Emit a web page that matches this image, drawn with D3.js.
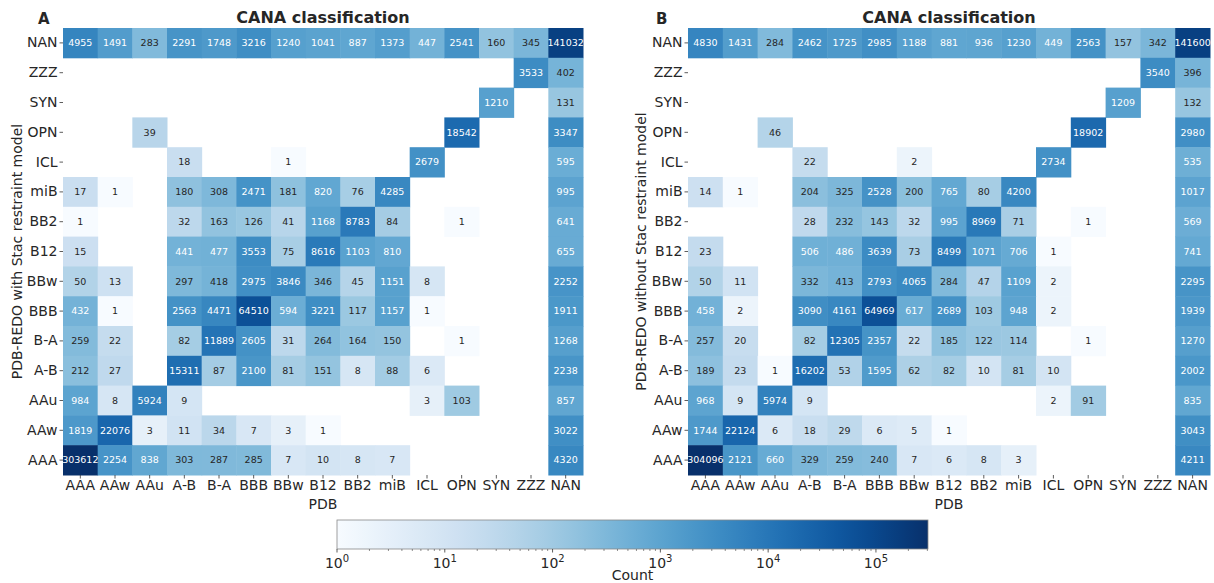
<!DOCTYPE html>
<html>
<head>
<meta charset="utf-8">
<script src="https://cdn.jsdelivr.net/npm/d3@7"></script>
<style>
  body { margin: 0; background: #fff; }
  svg { font-family: "DejaVu Sans", sans-serif; }
</style>
</head>
<body>
<svg id="chart" width="1214" height="583"></svg>
<script>
// row labels top -> bottom, column labels left -> right
const rowLabels = ['NAN', 'ZZZ', 'SYN', 'OPN', 'ICL', 'miB', 'BB2', 'B12', 'BBw', 'BBB', 'B-A', 'A-B', 'AAu', 'AAw', 'AAA'];
const colLabels = ['AAA', 'AAw', 'AAu', 'A-B', 'B-A', 'BBB', 'BBw', 'B12', 'BB2', 'miB', 'ICL', 'OPN', 'SYN', 'ZZZ', 'NAN'];
const _ = null;

// panel A: PDB-REDO with Stac restraint model
const countsA = [
  [4955, 1491, 283, 2291, 1748, 3216, 1240, 1041, 887, 1373, 447, 2541, 160, 345, 141032],
  [_, _, _, _, _, _, _, _, _, _, _, _, _, 3533, 402],
  [_, _, _, _, _, _, _, _, _, _, _, _, 1210, _, 131],
  [_, _, 39, _, _, _, _, _, _, _, _, 18542, _, _, 3347],
  [_, _, _, 18, _, _, 1, _, _, _, 2679, _, _, _, 595],
  [17, 1, _, 180, 308, 2471, 181, 820, 76, 4285, _, _, _, _, 995],
  [1, _, _, 32, 163, 126, 41, 1168, 8783, 84, _, 1, _, _, 641],
  [15, _, _, 441, 477, 3553, 75, 8616, 1103, 810, _, _, _, _, 655],
  [50, 13, _, 297, 418, 2975, 3846, 346, 45, 1151, 8, _, _, _, 2252],
  [432, 1, _, 2563, 4471, 64510, 594, 3221, 117, 1157, 1, _, _, _, 1911],
  [259, 22, _, 82, 11889, 2605, 31, 264, 164, 150, _, 1, _, _, 1268],
  [212, 27, _, 15311, 87, 2100, 81, 151, 8, 88, 6, _, _, _, 2238],
  [984, 8, 5924, 9, _, _, _, _, _, _, 3, 103, _, _, 857],
  [1819, 22076, 3, 11, 34, 7, 3, 1, _, _, _, _, _, _, 3022],
  [303612, 2254, 838, 303, 287, 285, 7, 10, 8, 7, _, _, _, _, 4320]
];

// panel B: PDB-REDO without Stac restraint model
const countsB = [
  [4830, 1431, 284, 2462, 1725, 2985, 1188, 881, 936, 1230, 449, 2563, 157, 342, 141600],
  [_, _, _, _, _, _, _, _, _, _, _, _, _, 3540, 396],
  [_, _, _, _, _, _, _, _, _, _, _, _, 1209, _, 132],
  [_, _, 46, _, _, _, _, _, _, _, _, 18902, _, _, 2980],
  [_, _, _, 22, _, _, 2, _, _, _, 2734, _, _, _, 535],
  [14, 1, _, 204, 325, 2528, 200, 765, 80, 4200, _, _, _, _, 1017],
  [_, _, _, 28, 232, 143, 32, 995, 8969, 71, _, 1, _, _, 569],
  [23, _, _, 506, 486, 3639, 73, 8499, 1071, 706, 1, _, _, _, 741],
  [50, 11, _, 332, 413, 2793, 4065, 284, 47, 1109, 2, _, _, _, 2295],
  [458, 2, _, 3090, 4161, 64969, 617, 2689, 103, 948, 2, _, _, _, 1939],
  [257, 20, _, 82, 12305, 2357, 22, 185, 122, 114, _, 1, _, _, 1270],
  [189, 23, 1, 16202, 53, 1595, 62, 82, 10, 81, 10, _, _, _, 2002],
  [968, 9, 5974, 9, _, _, _, _, _, _, 2, 91, _, _, 835],
  [1744, 22124, 6, 18, 29, 6, 5, 1, _, _, _, _, _, _, 3043],
  [304096, 2121, 660, 329, 259, 240, 7, 6, 8, 3, _, _, _, _, 4211]
];

const colorTicks = [1, 10, 100, 1000, 10000, 100000];
const countMax = d3.max([...countsA.flat(), ...countsB.flat()]);

const svg = d3.select('#chart');
const color = d3.scaleSequentialLog(d3.interpolateBlues).domain([1, countMax]);

// seaborn style: dark text on light cells, white on dark
function textColor(c) {
  const rgb = d3.rgb(c);
  const lin = v => { v /= 255; return v <= 0.03928 ? v / 12.92 : Math.pow((v + 0.055) / 1.055, 2.4); };
  const l = 0.2126 * lin(rgb.r) + 0.7152 * lin(rgb.g) + 0.0722 * lin(rgb.b);
  return l > 0.408 ? '#262626' : '#fff';
}

function drawPanel(counts, opts) {
  const g = svg.append('g');
  const x = d3.scaleBand().domain(colLabels).range([opts.left, opts.right]);
  const y = d3.scaleBand().domain(rowLabels).range([opts.top, opts.bottom]);

  const cells = [];
  counts.forEach((row, i) => row.forEach((v, j) => {
    if (v != null) cells.push({ r: rowLabels[i], c: colLabels[j], v });
  }));

  g.append('g').selectAll('rect')
    .data(cells)
    .join('rect')
      .attr('x', d => x(d.c))
      .attr('y', d => y(d.r))
      .attr('width', x.bandwidth() + 0.5)
      .attr('height', y.bandwidth() + 0.5)
      .attr('fill', d => color(d.v));

  g.append('g').selectAll('text')
    .data(cells)
    .join('text')
      .attr('x', d => x(d.c) + x.bandwidth() / 2)
      .attr('y', d => y(d.r) + y.bandwidth() / 2)
      .attr('dy', '0.35em')
      .attr('text-anchor', 'middle')
      .attr('font-size', 9.5)
      .attr('fill', d => textColor(color(d.v)))
      .text(d => d.v);

  const xAxis = g.append('g')
    .attr('transform', `translate(0,${opts.bottom})`)
    .call(d3.axisBottom(x).tickSize(3.5).tickPadding(2));
  xAxis.select('.domain').remove();
  xAxis.selectAll('line').attr('stroke', '#333').attr('stroke-width', 0.8);
  xAxis.selectAll('text').attr('font-size', 14).attr('fill', '#262626')
    .attr('font-family', '"DejaVu Sans", sans-serif');

  const yAxis = g.append('g')
    .attr('transform', `translate(${opts.left},0)`)
    .call(d3.axisLeft(y).tickSize(3.5).tickPadding(2));
  yAxis.select('.domain').remove();
  yAxis.selectAll('line').attr('stroke', '#333').attr('stroke-width', 0.8);
  yAxis.selectAll('text').attr('font-size', 14).attr('fill', '#262626')
    .attr('font-family', '"DejaVu Sans", sans-serif');

  const cx = (opts.left + opts.right) / 2;
  g.append('text')
    .attr('x', cx).attr('y', 23)
    .attr('text-anchor', 'middle')
    .attr('font-size', 16).attr('font-weight', 'bold').attr('fill', '#262626')
    .text('CANA classification');

  g.append('text')
    .attr('x', opts.letterX).attr('y', 24)
    .attr('font-size', 15).attr('font-weight', 'bold').attr('fill', '#262626')
    .text(opts.letter);

  g.append('text')
    .attr('x', cx).attr('y', opts.bottom + 34)
    .attr('text-anchor', 'middle')
    .attr('font-size', 14).attr('fill', '#262626')
    .text('PDB');

  g.append('text')
    .attr('transform', `translate(${opts.ylabelX},${(opts.top + opts.bottom) / 2}) rotate(-90)`)
    .attr('text-anchor', 'middle')
    .attr('font-size', 14).attr('fill', '#262626')
    .text(opts.ylabel);
}

drawPanel(countsA, {
  left: 63, right: 583, top: 28, bottom: 475,
  letter: 'A', letterX: 38, ylabelX: 22,
  ylabel: 'PDB-REDO with Stac restraint model'
});
drawPanel(countsB, {
  left: 688, right: 1210, top: 28, bottom: 475,
  letter: 'B', letterX: 656, ylabelX: 646,
  ylabel: 'PDB-REDO without Stac restraint model'
});

// colorbar
const cb = { left: 337, right: 928, top: 520, bottom: 549 };
const cbScale = d3.scaleLog().domain([1, countMax]).range([cb.left, cb.right]);
const defs = svg.append('defs');
const grad = defs.append('linearGradient').attr('id', 'cbgrad');
d3.range(0, 1.0001, 0.05).forEach(t => {
  grad.append('stop')
    .attr('offset', t)
    .attr('stop-color', color(Math.pow(countMax, t)));
});
svg.append('rect')
  .attr('x', cb.left).attr('y', cb.top)
  .attr('width', cb.right - cb.left).attr('height', cb.bottom - cb.top)
  .attr('fill', 'url(#cbgrad)')
  .attr('stroke', '#888').attr('stroke-width', 0.8);

// minor ticks
const minor = [];
for (let e = 0; e < 6; e++) for (let m = 2; m < 10; m++) {
  const v = m * Math.pow(10, e);
  if (v <= countMax) minor.push(v);
}
svg.append('g').selectAll('line')
  .data(minor)
  .join('line')
    .attr('x1', d => cbScale(d)).attr('x2', d => cbScale(d))
    .attr('y1', cb.bottom).attr('y2', cb.bottom + 2)
    .attr('stroke', '#444').attr('stroke-width', 0.6);

svg.append('g').selectAll('line')
  .data(colorTicks)
  .join('line')
    .attr('x1', d => cbScale(d)).attr('x2', d => cbScale(d))
    .attr('y1', cb.bottom).attr('y2', cb.bottom + 3.5)
    .attr('stroke', '#333').attr('stroke-width', 0.8);

const tickText = svg.append('g').selectAll('text')
  .data(colorTicks)
  .join('text')
    .attr('x', d => cbScale(d))
    .attr('y', cb.bottom + 19)
    .attr('text-anchor', 'middle')
    .attr('font-size', 14).attr('fill', '#262626');
tickText.append('tspan').text('10');
tickText.append('tspan')
  .attr('dy', -6).attr('font-size', 10)
  .text(d => Math.round(Math.log10(d)));

svg.append('text')
  .attr('x', (cb.left + cb.right) / 2).attr('y', cb.bottom + 31)
  .attr('text-anchor', 'middle')
  .attr('font-size', 14).attr('fill', '#262626')
  .text('Count');
</script>
</body>
</html>
